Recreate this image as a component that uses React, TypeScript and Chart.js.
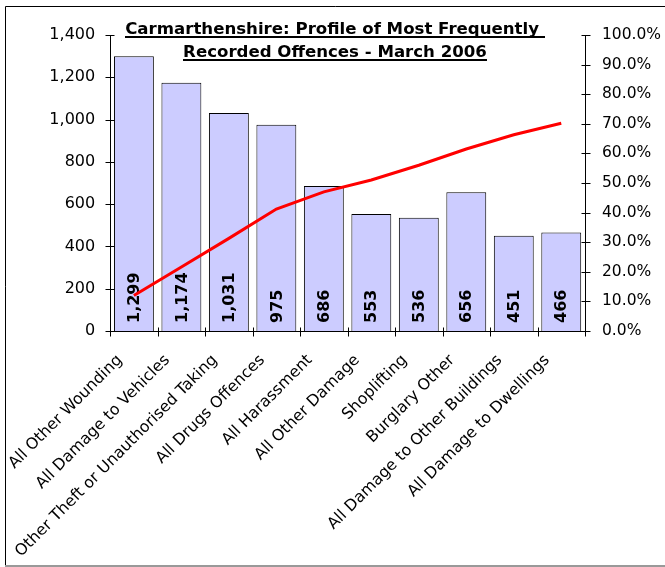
import { useEffect, useRef } from "react";
import { Chart, registerables } from "chart.js";

Chart.register(...registerables);

const categories = [
  "All Other Wounding",
  "All Damage to Vehicles",
  "Other Theft or Unauthorised Taking",
  "All Drugs Offences",
  "All Harassment",
  "All Other Damage",
  "Shoplifting",
  "Burglary Other",
  "All Damage to Other Buildings",
  "All Damage to Dwellings",
];
const offenceCounts = [1299, 1174, 1031, 975, 686, 553, 536, 656, 451, 466];
const cumulativePercent = [12.0, 21.6, 31.3, 41.2, 47.0, 51.0, 56.0, 61.5, 66.3, 70.2];
const countAxisMax = 1400;
const countAxisStep = 200;
const percentAxisMax = 100;
const percentAxisStep = 10;
const titleLines = ["Carmarthenshire: Profile of Most Frequently ", "Recorded Offences - March 2006"];

const FONT = "'DejaVu Sans', Verdana, sans-serif";

const decorPlugin = {
  id: "decor",
  afterDatasetDraw(chart: any, args: any) {
    if (args.index !== 0) return;
    const ctx = chart.ctx;
    const meta = chart.getDatasetMeta(0);
    const base = chart.scales.y.getPixelForValue(0);
    ctx.save();
    ctx.fillStyle = "#000";
    ctx.font = `bold 16px ${FONT}`;
    ctx.textAlign = "left";
    ctx.textBaseline = "middle";
    meta.data.forEach((bar: any, i: number) => {
      const label = offenceCounts[i].toLocaleString("en-GB");
      ctx.save();
      ctx.translate(bar.x + 1, base - 8);
      ctx.rotate(-Math.PI / 2);
      ctx.fillText(label, 0, 0);
      ctx.restore();
    });
    ctx.restore();
  },
  afterDraw(chart: any) {
    const ctx = chart.ctx;
    const area = chart.chartArea;
    const { left, right, top, bottom } = area;
    ctx.save();
    // frame
    ctx.lineWidth = 1;
    ctx.strokeStyle = "#000";
    ctx.beginPath();
    ctx.moveTo(5.5, 566);
    ctx.lineTo(5.5, 6.5);
    ctx.lineTo(665, 6.5);
    ctx.stroke();
    ctx.strokeStyle = "#999";
    ctx.lineWidth = 2;
    ctx.beginPath();
    ctx.moveTo(5, 566);
    ctx.lineTo(665, 566);
    ctx.stroke();
    // axes
    ctx.strokeStyle = "#000";
    ctx.lineWidth = 1;
    const L = Math.round(left) + 0.5;
    const R = Math.round(right) + 0.5;
    const B = Math.round(bottom) + 0.5;
    ctx.beginPath();
    ctx.moveTo(L, Math.round(top));
    ctx.lineTo(L, B);
    ctx.lineTo(R, B);
    ctx.moveTo(R, Math.round(top));
    ctx.lineTo(R, B);
    ctx.stroke();
    // ticks
    ctx.beginPath();
    chart.scales.y.ticks.forEach((t: any) => {
      const y = Math.round(chart.scales.y.getPixelForValue(t.value)) + 0.5;
      ctx.moveTo(L - 5, y);
      ctx.lineTo(L + 4, y);
    });
    chart.scales.y1.ticks.forEach((t: any) => {
      const y = Math.round(chart.scales.y1.getPixelForValue(t.value)) + 0.5;
      ctx.moveTo(R - 4, y);
      ctx.lineTo(R + 5, y);
    });
    const n = categories.length;
    for (let i = 0; i <= n; i++) {
      const x = Math.round(left + ((right - left) * i) / n) + 0.5;
      ctx.moveTo(x, B - 4);
      ctx.lineTo(x, B + 5);
    }
    ctx.stroke();
    // title
    ctx.fillStyle = "#000";
    ctx.font = `bold 16.6px ${FONT}`;
    ctx.textAlign = "center";
    ctx.textBaseline = "alphabetic";
    const cx = 335;
    const baselines = [34, 57];
    titleLines.forEach((line, i) => {
      ctx.fillText(line, cx, baselines[i]);
      const w = ctx.measureText(line).width;
      ctx.fillRect(Math.round(cx - w / 2), baselines[i] + 2, Math.round(w), 2);
    });
    ctx.restore();
  },
};

export default function App() {
  const ref = useRef<HTMLCanvasElement | null>(null);
  useEffect(() => {
    document.body.style.margin = "0";
    const canvas = ref.current;
    if (!canvas) return;
    const chart = new Chart(canvas, {
      type: "bar",
      data: {
        labels: categories,
        datasets: [
          {
            type: "bar",
            label: "Offences",
            data: offenceCounts,
            backgroundColor: "#CCCCFF",
            borderColor: "#000",
            borderWidth: 1,
            barPercentage: 0.84,
            categoryPercentage: 1,
            yAxisID: "y",
            order: 2,
          },
          {
            type: "line",
            label: "Cumulative %",
            data: cumulativePercent,
            borderColor: "#FF0000",
            borderWidth: 3,
            pointRadius: 0,
            tension: 0,
            fill: false,
            yAxisID: "y1",
            order: 1,
          } as any,
        ],
      },
      options: {
        responsive: false,
        animation: false,
        layout: { padding: { top: 35, left: 0, right: 0, bottom: 0 } },
        plugins: {
          legend: { display: false },
          tooltip: { enabled: false },
          title: { display: false },
        },
        scales: {
          x: {
            grid: { display: false, drawTicks: false },
            border: { display: false },
            ticks: {
              autoSkip: false,
              minRotation: 45,
              maxRotation: 45,
              padding: 20,
              labelOffset: -14,
              color: "#000",
              font: { family: FONT, size: 15.8 },
            },
            afterFit: (s: any) => {
              s.height = 236;
            },
          },
          y: {
            position: "left",
            min: 0,
            max: countAxisMax,
            grid: { display: false, drawTicks: false },
            border: { display: false },
            ticks: {
              stepSize: countAxisStep,
              padding: 15,
              color: "#000",
              font: { family: FONT, size: 16 },
              callback: (v: any) => Number(v).toLocaleString("en-GB"),
            },
            afterFit: (s: any) => {
              s.width = 110;
            },
          },
          y1: {
            position: "right",
            min: 0,
            max: percentAxisMax,
            grid: { display: false, drawTicks: false },
            border: { display: false },
            ticks: {
              stepSize: percentAxisStep,
              padding: 17,
              color: "#000",
              font: { family: FONT, size: 15.5 },
              callback: (v: any) => Number(v).toFixed(1) + "%",
            },
            afterFit: (s: any) => {
              s.width = 80;
            },
          },
        },
      },
      plugins: [decorPlugin],
    });
    return () => chart.destroy();
  }, []);
  return (
    <div style={{ width: 665, height: 567 }}>
      <canvas ref={ref} width={665} height={567} style={{ display: "block" }} />
    </div>
  );
}
